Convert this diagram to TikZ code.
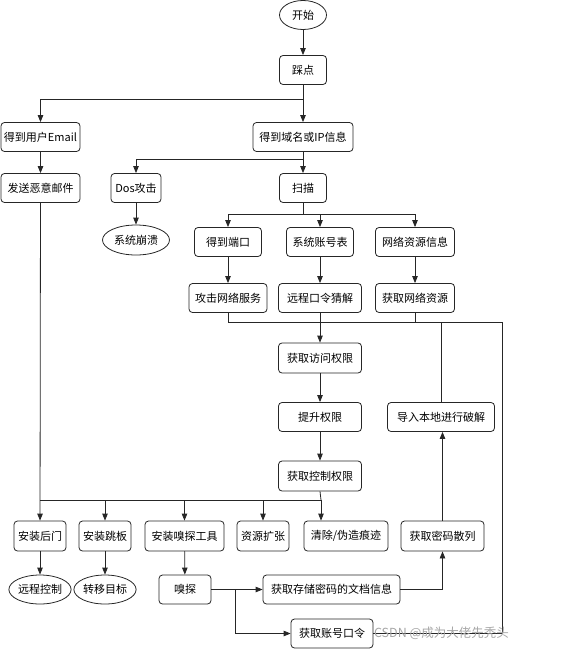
\documentclass[tikz,border=0pt]{standalone}
\usepackage{fontspec}
\setmainfont{Noto Sans CJK SC}
\usetikzlibrary{arrows.meta,shapes.geometric,calc}
\begin{document}
\begin{tikzpicture}[x=1pt,y=-1pt,
  box/.style={draw=black!85,line width=0.8pt,rounded corners=3.5pt,inner sep=0pt,minimum height=29pt,font=\fontsize{11}{13}\selectfont},
  oval/.style={draw=black!85,line width=0.8pt,ellipse,inner sep=0pt,minimum height=29pt,font=\fontsize{11}{13}\selectfont},
  ln/.style={draw=black!85,line width=0.8pt},
  arr/.style={ln,-{Triangle[length=7pt,width=5.5pt]}}]
\useasboundingbox (0,0) rectangle (582,650);
% nodes
\node[oval,minimum width=47pt] (start) at (303,15) {开始};
\node[box,minimum width=47pt] (tadian) at (303,70) {踩点};
\node[box,minimum width=79pt] (email) at (40.5,137) {得到用户Email};
\node[box,minimum width=100pt] (domain) at (303,137) {得到域名或IP信息};
\node[box,minimum width=79pt] (mail) at (40.5,188) {发送恶意邮件};
\node[box,minimum width=50pt] (dos) at (136,188) {Dos攻击};
\node[box,minimum width=47pt] (scan) at (303,188) {扫描};
\node[oval,minimum width=67pt,minimum height=30pt] (crash) at (136,240) {系统崩溃};
\node[box,minimum width=67pt] (port) at (228,242) {得到端口};
\node[box,minimum width=67pt] (acct) at (320,242) {系统账号表};
\node[box,minimum width=79pt] (netinfo) at (415,242) {网络资源信息};
\node[box,minimum width=78pt] (attack) at (228,298) {攻击网络服务};
\node[box,minimum width=83pt] (guess) at (320,298) {远程口令猜解};
\node[box,minimum width=79pt] (getres) at (415,298) {获取网络资源};
\node[box,minimum width=83pt,minimum height=30pt] (access) at (320,358) {获取访问权限};
\node[box,minimum width=83pt] (raise) at (320,417) {提升权限};
\node[box,minimum width=107pt] (import) at (441,417) {导入本地进行破解};
\node[box,minimum width=83pt,minimum height=30pt] (control) at (320,476) {获取控制权限};
\node[box,minimum width=52pt,minimum height=30pt] (backdoor) at (40,536) {安装后门};
\node[box,minimum width=52pt,minimum height=30pt] (jump) at (105,536) {安装跳板};
\node[box,minimum width=79pt,minimum height=30pt] (sniftool) at (184.5,536) {安装嗅探工具};
\node[box,minimum width=52pt,minimum height=30pt] (expand) at (263,536) {资源扩张};
\node[box,minimum width=84pt,minimum height=30pt] (clear) at (346,536) {清除/伪造痕迹};
\node[box,minimum width=83pt,minimum height=30pt] (hash) at (442.5,536) {获取密码散列};
\node[oval,minimum width=52pt] (remote) at (40,589.5) {远程控制};
\node[oval,minimum width=52pt] (transfer) at (105,589.5) {转移目标};
\node[box,minimum width=52pt] (sniff) at (185,589.5) {嗅探};
\node[box,minimum width=137pt] (docs) at (331.5,589.5) {获取存储密码的文档信息};
\node[box,minimum width=82pt] (acctpw) at (332,633.5) {获取账号口令};
% junction coordinates
\coordinate (j1) at (303,99);
\coordinate (j2) at (303,159);
\coordinate (j3) at (303,214);
\coordinate (j4) at (228,322);
\coordinate (j5) at (502,322);
\coordinate (j6) at (502,633.5);
\coordinate (j7) at (40,500);
\coordinate (j8) at (321,500);
\coordinate (j9) at (235,589.5);
% connectors
\draw[arr] (start) -- (tadian);
\draw[arr] (tadian) -- (domain);
\draw[arr] (j1) -| (email.north);
\draw[arr] (email) -- (mail);
\draw[arr] (domain) -- (scan);
\draw[arr] (j2) -| (dos.north);
\draw[arr] (dos) -- (crash);
\draw[ln] (scan.south) -- (j3);
\draw[ln] (j3 -| port) -- (j3 -| netinfo);
\draw[arr] (j3 -| port) -- (port);
\draw[arr] (j3 -| acct) -- (acct);
\draw[arr] (j3 -| netinfo) -- (netinfo);
\draw[arr] (port) -- (attack);
\draw[arr] (acct) -- (guess);
\draw[arr] (netinfo) -- (getres);
\draw[ln] (attack.south) -- (j4) -- (j5);
\draw[ln] (getres.south) -- (getres.south |- j4);
\draw[ln] (import.north) -- (import.north |- j4);
\draw[arr] (guess) -- (access);
\draw[ln] (j5) -- (j6) -- (acctpw.east);
\draw[arr] (access) -- (raise);
\draw[arr] (raise) -- (control);
\draw[ln] (control.south) -- (j8);
\draw[ln] (j7) -- (j8);
\draw[arr] (mail) -- (backdoor);
\draw[arr] (j7 -| jump) -- (jump);
\draw[arr] (j7 -| sniftool) -- (sniftool);
\draw[arr] (j7 -| expand) -- (expand);
\draw[arr] (j8) -- (j8 |- clear.north);
\draw[arr] (backdoor) -- (remote);
\draw[arr] (jump) -- (transfer);
\draw[arr] (sniftool) -- (sniff);
\draw[arr] (sniff) -- (docs);
\draw[arr] (j9) |- (acctpw.west);
\draw[arr] (docs.east) -| (hash.south);
\draw[arr] (hash.north) -- (hash.north |- import.south);
% watermark
\node[text=black!35,font=\fontsize{12.5}{14}\selectfont,inner sep=0pt] (wm) at (441.5,633) {CSDN @成为大佬先秃头};
\end{tikzpicture}
\end{document}
